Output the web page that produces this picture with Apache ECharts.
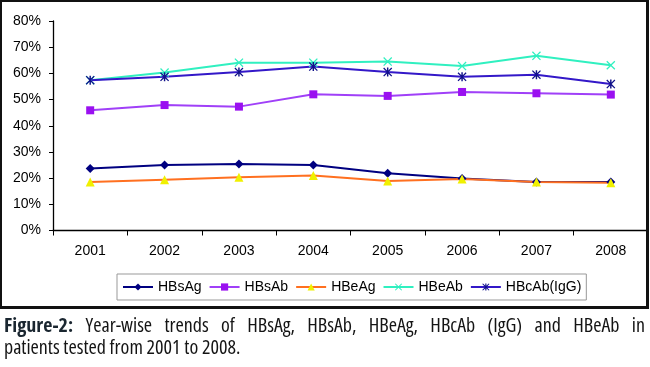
<!DOCTYPE html>
<html>
<head>
<meta charset="utf-8">
<script src="https://cdn.jsdelivr.net/npm/echarts@6/dist/echarts.min.js"></script>
<style>
  html, body { margin: 0; padding: 0; background: #fff; width: 650px; height: 367px; overflow: hidden; }
  #chart { position: absolute; left: 0; top: 0; width: 648px; height: 308px; overflow: hidden; }
  #frame { position: absolute; left: 0; top: 0; width: 649px; height: 309px; box-sizing: border-box;
           border: 2px solid #111; border-right-width: 3px; border-bottom-width: 3px; pointer-events: none; }
  #caption { position: absolute; left: 4px; top: 314px; width: 641px;
             font-family: "Open Sans", sans-serif; font-stretch: condensed;
             font-size: 20px; line-height: 22px; color: #141414; }
  #caption .l1 { display: block; text-align: justify; text-align-last: justify; white-space: nowrap; }
  #caption .l2 { display: block; }
  #caption b { color: #1a2630; font-weight: 700; }
</style>
</head>
<body>
<div id="chart"></div>
<div id="frame"></div>
<div id="caption"><span class="l1"><b>Figure-2:</b> Year-wise trends of HBsAg, HBsAb, HBeAg, HBcAb (IgG) and HBeAb in</span><span class="l2">patients tested from 2001 to 2008.</span></div>
<script>
const years = ['2001', '2002', '2003', '2004', '2005', '2006', '2007', '2008'];
const seriesNames = ['HBsAg', 'HBsAb', 'HBeAg', 'HBeAb', 'HBcAb(IgG)'];
const HBsAg = [23.7, 25.0, 25.4, 25.0, 21.9, 19.9, 18.5, 18.5];
const HBsAb = [45.9, 47.9, 47.3, 52.0, 51.4, 52.9, 52.4, 51.9];
const HBeAg = [18.5, 19.4, 20.3, 21.0, 18.9, 19.7, 18.5, 18.2];
const HBeAb = [57.4, 60.3, 64.1, 64.1, 64.5, 62.8, 66.7, 63.1];
const HBcAb = [57.4, 58.7, 60.5, 62.6, 60.5, 58.7, 59.5, 55.9];
const yTicks = [0, 10, 20, 30, 40, 50, 60, 70, 80];

const xSym = 'path://M1,0L5,4L9,0L10,1L6,5L10,9L9,10L5,6L1,10L0,9L4,5L0,1Z';
const starSym = 'path://M1,0L5,4L9,0L10,1L6,5L10,9L9,10L5,6L1,10L0,9L4,5L0,1Z M4.2,0L5.8,0L5.8,10L4.2,10Z';

const font = '"Liberation Sans", Arial, sans-serif';
const chart = echarts.init(document.getElementById('chart'), null, { renderer: 'canvas' });

function mk(name, data, lineColor, symbol, symbolSize, symColor) {
  return {
    name: name, type: 'line', data: data,
    symbol: symbol, symbolSize: symbolSize,
    lineStyle: { color: lineColor, width: 2 },
    itemStyle: { color: symColor, borderColor: symColor, borderWidth: 0 },
    emphasis: { disabled: true }
  };
}

chart.setOption({
  animation: false,
  backgroundColor: '#fff',
  grid: { left: 53, top: 21, width: 602, height: 209.5, containLabel: false },
  xAxis: {
    type: 'category', data: years, boundaryGap: true,
    axisLine: { lineStyle: { color: '#000', width: 1.3 } },
    axisTick: { show: true, length: 5, lineStyle: { color: '#000' } },
    axisLabel: { color: '#000', fontFamily: font, fontSize: 14, margin: 14 },
    splitLine: { show: false }
  },
  yAxis: {
    type: 'value', min: yTicks[0], max: yTicks[yTicks.length - 1], interval: 10,
    axisLine: { show: true, lineStyle: { color: '#000', width: 1.3 } },
    axisTick: { show: true, length: 4, lineStyle: { color: '#000' } },
    axisLabel: { color: '#000', fontFamily: font, fontSize: 14, margin: 12, formatter: '{value}%' },
    splitLine: { show: false }
  },
  legend: {
    data: seriesNames,
    left: 117, top: 274,
    itemWidth: 30, itemHeight: 9, itemGap: 7,
    padding: [6, 5],
    borderColor: '#999', borderWidth: 1, backgroundColor: '#fff',
    textStyle: { color: '#000', fontFamily: font, fontSize: 14 }
  },
  series: [
    mk(seriesNames[0], HBsAg, '#000080', 'diamond', 9, '#000080'),
    mk(seriesNames[1], HBsAb, '#A040F8', 'rect', 8, '#9A10F0'),
    mk(seriesNames[2], HBeAg, '#FF7020', 'triangle', 9, '#F0F000'),
    mk(seriesNames[3], HBeAb, '#30F0C0', xSym, 9, '#30F0C0'),
    mk(seriesNames[4], HBcAb, '#3318C8', starSym, 9, '#10108A')
  ]
});
</script>
</body>
</html>
